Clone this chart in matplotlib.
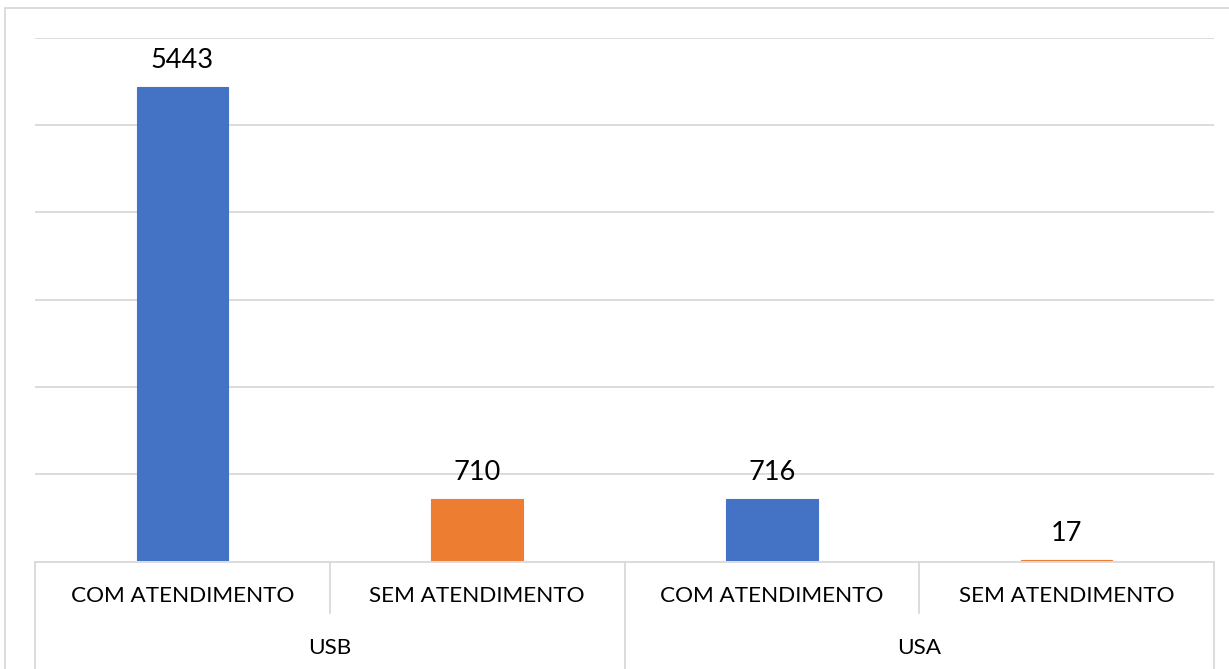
import matplotlib.pyplot as plt
import matplotlib.transforms as mtransforms
from matplotlib.patches import Rectangle
import numpy as np

# data
categories = ['COM ATENDIMENTO', 'SEM ATENDIMENTO', 'COM ATENDIMENTO', 'SEM ATENDIMENTO']
groups = ['USB', 'USA']
values = [5443, 710, 716, 17]
bar_colors = ['#4472C4', '#ED7D31', '#4472C4', '#ED7D31']

plt.rcParams['font.family'] = ['Lato', 'DejaVu Sans']

W, H = 1229, 669
fig = plt.figure(figsize=(W / 100, H / 100), dpi=100)

# plot area in pixels
left_px, right_px, top_px, base_px = 35, 1214, 38, 561
ax = fig.add_axes([left_px / W, (H - base_px) / H,
                   (right_px - left_px) / W, (base_px - top_px) / H])

grid_c = '#D9D9D9'
x = np.arange(len(values))
bars = ax.bar(x, values, width=0.31, color=bar_colors, edgecolor=bar_colors,
              linewidth=0.8, zorder=3)

ax.set_xlim(-0.5, len(values) - 0.5)
ax.set_ylim(0, 6000)
ax.set_yticks(np.arange(1000, 6001, 1000))
ax.yaxis.grid(True, color=grid_c, linewidth=1.3)
ax.set_axisbelow(True)
ax.tick_params(left=False, labelleft=False, bottom=False, labelbottom=False)
for s in ax.spines.values():
    s.set_visible(False)

for b, v in zip(bars, values):
    ax.annotate(str(v), (b.get_x() + b.get_width() / 2, v),
                xytext=(0, 13.5), textcoords='offset points',
                ha='center', va='baseline', fontsize=19.5, color='#000000')

# multi level category axis
ax_h = base_px - top_px
def yfrac(py):
    return -(py - base_px) / ax_h

trans = mtransforms.blended_transform_factory(ax.transData, ax.transAxes)
ax.plot([-0.5, len(values) - 0.5], [-1.2 / ax_h, -1.2 / ax_h], transform=trans,
        color=grid_c, linewidth=1.3, clip_on=False, zorder=2)
for xb in np.arange(-0.5, len(values), 1.0):
    long_tick = int(round(xb + 0.5)) % 2 == 0
    y_end = yfrac(H + 5) if long_tick else yfrac(613)
    ax.plot([xb, xb], [-1.2 / ax_h, y_end], transform=trans, color=grid_c,
            linewidth=1.3, clip_on=False)

for i, c in enumerate(categories):
    ax.text(i, yfrac(596), c, transform=trans, ha='center', va='center',
            fontsize=16.2, color='#000000')
for j, g in enumerate(groups):
    ax.text(2 * j + 0.5, yfrac(648), g, transform=trans, ha='center',
            va='center', fontsize=16.2, color='#000000')

# chart border
fig.patches.append(Rectangle((5 / W, -0.1), 1.2, (H - 8) / H + 0.1,
                             transform=fig.transFigure, fill=False,
                             edgecolor=grid_c, linewidth=1.3))

fig.savefig('out.png', dpi=100)
